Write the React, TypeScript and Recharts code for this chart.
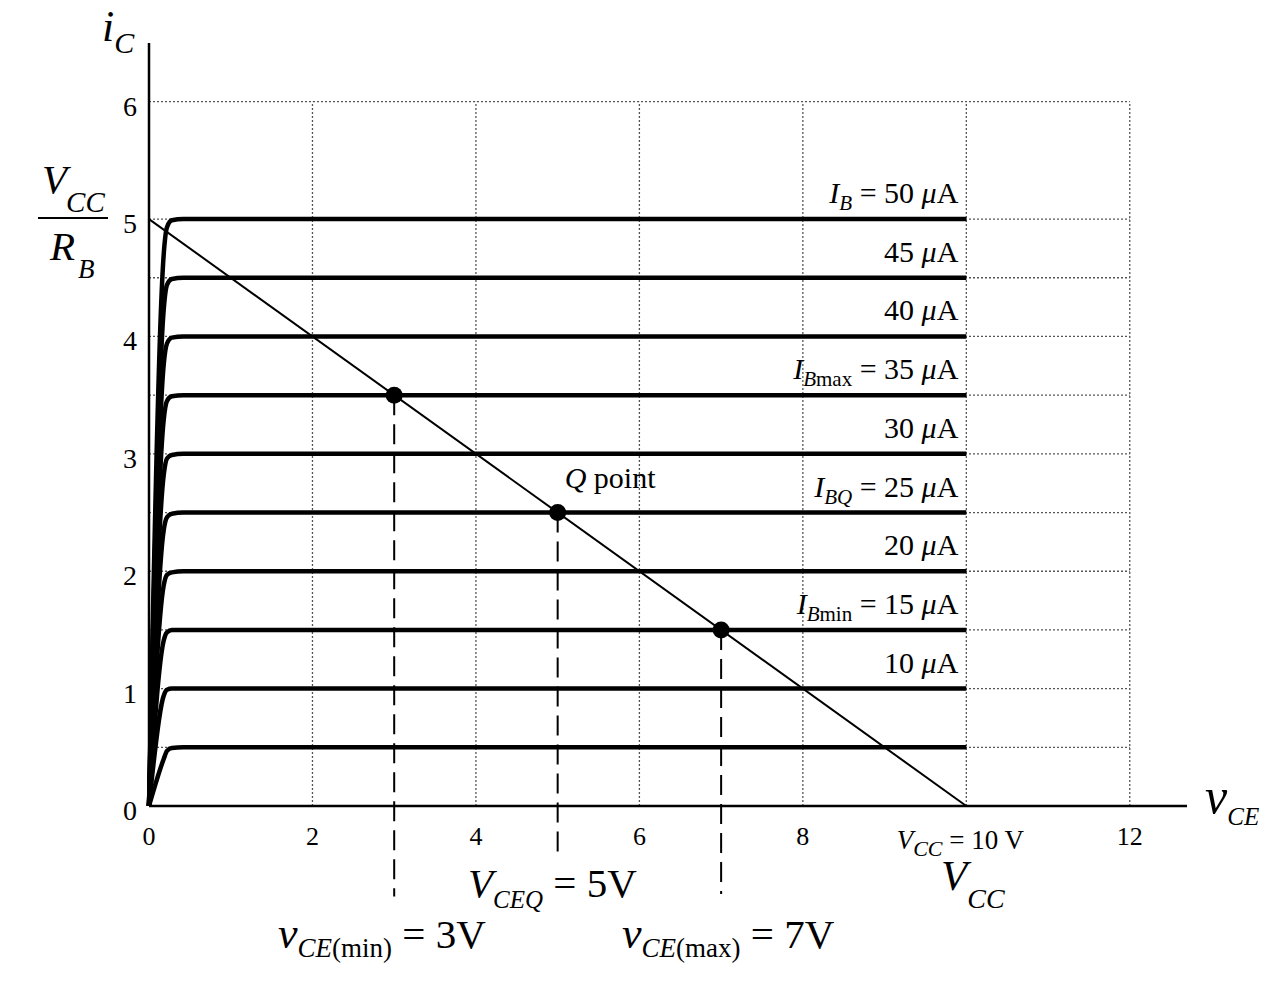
import React from 'react';
import { ComposedChart, Line, XAxis, YAxis, Scatter, ReferenceLine, ReferenceDot } from 'recharts';

const SERIF = '"Liberation Serif", "Times New Roman", "DejaVu Serif", serif';

// Output characteristic curves: v_CE knee points (V) and i_C values (mA) per curve
const vceKnee = [0, 0.18, 0.22, 0.28, 0.42, 10];
const ib50 = [0, 4.7, 4.93, 4.99, 5.0, 5.0];
const ib45 = [0, 4.23, 4.44, 4.49, 4.5, 4.5];
const ib40 = [0, 3.76, 3.94, 3.99, 4.0, 4.0];
const ib35 = [0, 3.29, 3.45, 3.49, 3.5, 3.5];
const ib30 = [0, 2.82, 2.96, 2.99, 3.0, 3.0];
const ib25 = [0, 2.35, 2.46, 2.49, 2.5, 2.5];
const ib20 = [0, 1.88, 1.97, 1.99, 2.0, 2.0];
const ib15 = [0, 1.41, 1.48, 1.5, 1.5, 1.5];
const ib10 = [0, 0.94, 0.99, 1.0, 1.0, 1.0];
const ib05 = [0, 0.4, 0.47, 0.495, 0.5, 0.5];
const ibCurves = [ib50, ib45, ib40, ib35, ib30, ib25, ib20, ib15, ib10, ib05];
const ibLevels = [5, 4.5, 4, 3.5, 3, 2.5, 2, 1.5, 1, 0.5];
const ibValues = ['50', '45', '40', '35', '30', '25', '20', '15', '10', ''];
const ibNames = ['B', '', '', 'Bmax', '', 'BQ', '', 'Bmin', '', ''];

// Load line end points
const loadV = [0, 10];
const loadI = [5, 0];

// Operating points
const opV = [3, 5, 7];
const opI = [3.5, 2.5, 1.5];
const dropEnd = [-0.77, -0.46, -0.75];

// Axes / grid
const xTicks = [0, 2, 4, 6, 8, 10, 12];
const yTicks = [0, 1, 2, 3, 4, 5, 6];
const gridVX = [2, 4, 6, 8, 10, 12];
const gridHY = [0.5, 1, 1.5, 2, 2.5, 3, 3.5, 4, 4.5, 5, 6];

const curveData = ibCurves.map((c) => c.map((y, i) => ({ x: vceKnee[i], y })));
const loadData = loadV.map((x, i) => ({ x, y: loadI[i] }));
const opData = opV.map((x, i) => ({ x, y: opI[i] }));

const XTick = (props: any) => {
  const { x, y, payload } = props;
  if (payload.value === 10) {
    return (
      <text x={x - 6} y={y + 43} textAnchor="middle" fontFamily={SERIF} fontSize={27} fill="#000" style={{ whiteSpace: 'pre' }}>
        <tspan fontStyle="italic">V</tspan>
        <tspan fontStyle="italic" fontSize={22} dy={7}>CC</tspan>
        <tspan dy={-7}>{' = 10 V'}</tspan>
      </text>
    );
  }
  return (
    <text x={x} y={y + 39} textAnchor="middle" fontFamily={SERIF} fontSize={26} fill="#000">
      {payload.value}
    </text>
  );
};

const YTick = (props: any) => {
  const { x, y, payload } = props;
  return (
    <text x={x - 12} y={y + 14} textAnchor="end" fontFamily={SERIF} fontSize={28} fill="#000">
      {payload.value}
    </text>
  );
};

const makeCurveLabel = (idx: number) => (props: any) => {
  const { cx, cy } = props;
  const value = ibValues[idx];
  const name = ibNames[idx];
  if (!value) return <g />;
  const sfs = 21;
  return (
    <text x={cx - 8} y={cy - 16} textAnchor="end" fontFamily={SERIF} fontSize={30} fill="#000" style={{ whiteSpace: 'pre' }}>
      {name ? <tspan fontStyle="italic">I</tspan> : null}
      {name ? <tspan fontStyle="italic" fontSize={sfs} dy={7}>{name === 'BQ' ? 'BQ' : 'B'}</tspan> : null}
      {name === 'Bmax' ? <tspan fontSize={sfs}>max</tspan> : null}
      {name === 'Bmin' ? <tspan fontSize={sfs}>min</tspan> : null}
      {name ? <tspan dy={-7}>{' = '}</tspan> : null}
      <tspan>{value + ' '}</tspan>
      <tspan fontStyle="italic">μ</tspan>
      <tspan>A</tspan>
    </text>
  );
};

const QLabel = (props: any) => {
  const { cx, cy } = props;
  return (
    <text x={cx + 7} y={cy - 25} fontFamily={SERIF} fontSize={30} fill="#000" style={{ whiteSpace: 'pre' }}>
      <tspan fontStyle="italic">Q</tspan>
      <tspan>{' point'}</tspan>
    </text>
  );
};

const OpDot = (props: any) => <circle cx={props.cx} cy={props.cy} r={8.5} fill="#000" />;

export default function App() {
  return (
    <div style={{ position: 'relative', width: 1260, height: 970, background: '#fff' }}>
      <ComposedChart width={1260} height={970} margin={{ top: 35, right: 81, bottom: 132, left: 81 }}>
        <XAxis
          type="number"
          dataKey="x"
          domain={[0, 12.7]}
          ticks={xTicks}
          interval={0}
          tickLine={false}
          tickSize={0}
          tickMargin={0}
          height={40}
          axisLine={{ stroke: '#000', strokeWidth: 2.5 }}
          tick={<XTick />}
        />
        <YAxis
          type="number"
          domain={[0, 6.5]}
          ticks={yTicks}
          interval={0}
          tickLine={false}
          tickSize={0}
          tickMargin={0}
          width={60}
          axisLine={{ stroke: '#000', strokeWidth: 2.5 }}
          tick={<YTick />}
        />
        {gridVX.map((v) => (
          <Line
            key={'gv' + v}
            data={[{ x: v, y: 0 }, { x: v, y: 6 }]}
            dataKey="y"
            type="linear"
            stroke="#555"
            strokeWidth={1.3}
            strokeDasharray="2 2"
            dot={false}
            activeDot={false}
            isAnimationActive={false}
          />
        ))}
        {gridHY.map((v) => (
          <Line
            key={'gh' + v}
            data={[{ x: 0, y: v }, { x: 12, y: v }]}
            dataKey="y"
            type="linear"
            stroke="#555"
            strokeWidth={1.3}
            strokeDasharray="2 2"
            dot={false}
            activeDot={false}
            isAnimationActive={false}
          />
        ))}
        {curveData.map((d, i) => (
          <Line
            key={'ib' + i}
            data={d}
            dataKey="y"
            type="monotone"
            stroke="#000"
            strokeWidth={4.5}
            dot={false}
            activeDot={false}
            isAnimationActive={false}
          />
        ))}
        <Line
          data={loadData}
          dataKey="y"
          type="linear"
          stroke="#000"
          strokeWidth={2}
          dot={false}
          activeDot={false}
          isAnimationActive={false}
        />
        {opV.map((v, i) => (
          <ReferenceLine
            key={'drop' + i}
            segment={[{ x: v, y: opI[i] }, { x: v, y: dropEnd[i] }]}
            ifOverflow="visible"
            stroke="#000"
            strokeWidth={2}
            strokeDasharray="20 9"
          />
        ))}
        <Scatter data={opData} dataKey="y" fill="#000" shape={<OpDot />} isAnimationActive={false} />
        {ibLevels.map((lvl, i) => (
          <ReferenceDot key={'lbl' + i} x={10} y={lvl} r={0} shape={makeCurveLabel(i)} />
        ))}
        <ReferenceDot x={opV[1]} y={opI[1]} r={0} shape={<QLabel />} />
      </ComposedChart>
      <svg
        width={1276}
        height={986}
        style={{ position: 'absolute', left: -8, top: -8, pointerEvents: 'none', overflow: 'visible' }}
        fontFamily={SERIF}
        fill="#000"
      >
        {/* i_C */}
        <text x={102} y={41} fontSize={44} fontStyle="italic">
          i<tspan fontSize={30} dy={12}>C</tspan>
        </text>
        {/* V_CC / R_B */}
        <text x={42} y={193} fontSize={41} fontStyle="italic">
          V<tspan fontSize={29} dy={19} dx={-1}>CC</tspan>
        </text>
        <line x1={38} x2={108} y1={218} y2={218} stroke="#000" strokeWidth={2} />
        <text x={50} y={260} fontSize={41} fontStyle="italic">
          R<tspan fontSize={27} dy={18} dx={3}>B</tspan>
        </text>
        {/* v_CE axis title */}
        <text x={1205} y={813} fontSize={50} fontStyle="italic">
          v<tspan fontSize={25} dy={12}>CE</tspan>
        </text>
        {/* V_CEQ = 5V */}
        <text x={468} y={897} fontSize={41} style={{ whiteSpace: 'pre' }}>
          <tspan fontStyle="italic">V</tspan>
          <tspan fontStyle="italic" fontSize={25} dy={11}>CEQ</tspan>
          <tspan dy={-11}>{' = 5V'}</tspan>
        </text>
        {/* v_CE(min) = 3V */}
        <text x={278} y={948} fontSize={41} style={{ whiteSpace: 'pre' }}>
          <tspan fontStyle="italic" fontSize={44}>v</tspan>
          <tspan fontStyle="italic" fontSize={27} dy={9}>CE</tspan>
          <tspan fontSize={27}>(min)</tspan>
          <tspan dy={-9}>{' = 3V'}</tspan>
        </text>
        {/* v_CE(max) = 7V */}
        <text x={622} y={948} fontSize={41} style={{ whiteSpace: 'pre' }}>
          <tspan fontStyle="italic" fontSize={44}>v</tspan>
          <tspan fontStyle="italic" fontSize={27} dy={9}>CE</tspan>
          <tspan fontSize={27}>(max)</tspan>
          <tspan dy={-9}>{' = 7V'}</tspan>
        </text>
        {/* V_CC under axis */}
        <text x={941} y={890} fontSize={43} fontStyle="italic">
          V<tspan fontSize={28} dy={18}>CC</tspan>
        </text>
      </svg>
    </div>
  );
}
